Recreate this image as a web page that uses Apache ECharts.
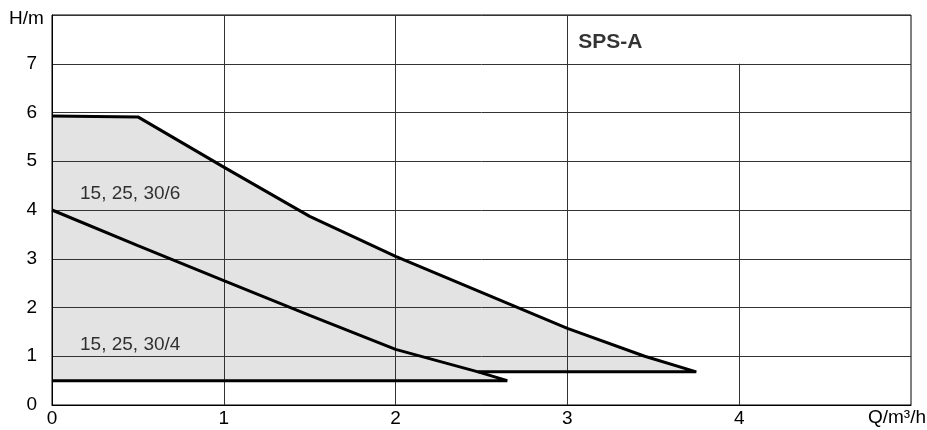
<!DOCTYPE html>
<html>
<head>
<meta charset="utf-8">
<script src="https://cdn.jsdelivr.net/npm/echarts@6/dist/echarts.min.js"></script>
<style>html,body{margin:0;padding:0;background:#fff}#c{width:927px;height:430px}</style>
</head>
<body>
<div id="c"></div>
<script>
// Upper curve (15, 25, 30/6) then its bottom edge at 0.68 m
var upperQ = [0, 0.5, 1.0, 1.5, 2.0, 2.5, 3.0, 3.45, 3.75, 2.48];
var upperH = [5.93, 5.91, 4.88, 3.87, 3.05, 2.31, 1.57, 1.0, 0.68, 0.68];
// Lower curve (15, 25, 30/4) then its bottom edge at 0.5 m
var lowerQ = [0, 0.5, 1.0, 1.5, 2.0, 2.48, 2.65, 0];
var lowerH = [4.0, 3.27, 2.55, 1.84, 1.14, 0.68, 0.5, 0.5];
// Vertical grid lines (x value, top value)
var vGridQ = [1, 2, 3, 4];
var vGridTop = [8, 8, 8, 7];
// Curve labels
var curveLabels = ['15, 25, 30/6', '15, 25, 30/4'];
var curveLabelQ = [0.163, 0.163];
var curveLabelH = [4.34, 1.24];
var boxTitle = 'SPS-A';
var boxTitleQ = 3.063, boxTitleH = 7.45;

var FONT = '"Liberation Sans", Arial, sans-serif';

function pts(qs, hs){ return qs.map(function(q,i){ return [q, hs[i]]; }); }
var upperPts = pts(upperQ, upperH);
var lowerPts = pts(lowerQ, lowerH);
// fill polygon: upper curve + its 0.68 edge, then lower curve from 0.68 point down to 0.5 and back to 0
var polyPts = upperPts.concat(lowerPts.slice(6));

var chart = echarts.init(document.getElementById('c'), null, {renderer: 'canvas'});
chart.setOption({
  animation: false,
  grid: {left: 52, right: 16, top: 15, bottom: 25, show: true, borderColor: '#000', borderWidth: 1, backgroundColor: 'transparent'},
  xAxis: {
    type: 'value', min: 0, max: 5, interval: 1,
    axisLine: {show: true, lineStyle: {color: '#000', width: 1}},
    axisTick: {show: false},
    splitLine: {show: false},
    axisLabel: {color: '#000', fontFamily: FONT, fontSize: 19, margin: 4,
      formatter: function(v){ return v === 5 ? '' : String(v); }}
  },
  yAxis: {
    type: 'value', min: 0, max: 8, interval: 1,
    axisLine: {show: true, lineStyle: {color: '#000', width: 1}},
    axisTick: {show: false},
    splitLine: {show: true, lineStyle: {color: '#333', width: 1}},
    axisLabel: {color: '#000', fontFamily: FONT, fontSize: 19, margin: 15,
      formatter: function(v){ return v === 8 ? '' : String(v); }}
  },
  graphic: [
    {type: 'text', left: 9, top: 9, style: {text: 'H/m', font: '19px ' + FONT, fill: '#000'}},
    {type: 'text', right: 1, top: 408, style: {text: 'Q/m³/h', font: '19px ' + FONT, fill: '#000'}}
  ],
  series: [
    {
      type: 'custom', z: -1, silent: true,
      data: [0],
      renderItem: function(params, api){
        return {type: 'polygon', shape: {points: polyPts.map(function(p){ return api.coord(p); })},
          style: {fill: '#e3e3e3', stroke: null}};
      }
    },
    {
      type: 'line', data: [], silent: true,
      markLine: {
        symbol: 'none', silent: true, animation: false,
        label: {show: false},
        lineStyle: {color: '#333', width: 1, type: 'solid'},
        data: vGridQ.map(function(q, i){ return [{coord: [q, 0]}, {coord: [q, vGridTop[i]]}]; })
      }
    },
    {type: 'line', data: upperPts, symbol: 'none', lineStyle: {color: '#000', width: 3}, z: 5},
    {type: 'line', data: lowerPts, symbol: 'none', lineStyle: {color: '#000', width: 3}, z: 5},
    {
      type: 'scatter', symbolSize: 0, silent: true, z: 6,
      data: curveLabels.map(function(t, i){ return {value: [curveLabelQ[i], curveLabelH[i]], name: t}; }),
      label: {show: true, position: 'right', distance: 0, formatter: '{b}', color: '#000', fontFamily: FONT, fontSize: 19}
    },
    {
      type: 'scatter', symbolSize: 0, silent: true, z: 6,
      data: [{value: [boxTitleQ, boxTitleH], name: boxTitle}],
      label: {show: true, position: 'right', distance: 0, formatter: '{b}', color: '#000', fontFamily: FONT, fontSize: 21, fontWeight: 'bold'}
    }
  ]
});
</script>
</body>
</html>
